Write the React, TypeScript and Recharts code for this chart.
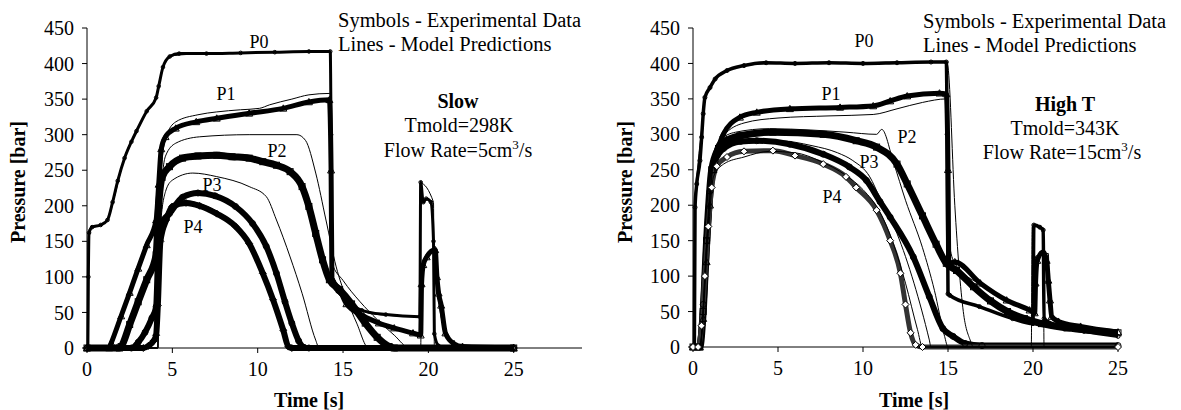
import React from "react";
import { LineChart, Line, XAxis, YAxis } from "recharts";

type Pt = { t: number; p: number };

const timeTicks = [0, 5, 10, 15, 20, 25];
const pressureTicks = [0, 50, 100, 150, 200, 250, 300, 350, 400, 450];

// "Slow" run (Tmold=298K, 5 cm3/s) - symbols = experiment, lines = model
const slowP0Exp = [[0,0],[0.05,0],[0.08,100],[0.12,162],[0.3,170],[0.8,173],[1.2,180],[1.5,205],[1.8,235],[2.2,267],[2.6,290],[2.9,305],[3.5,333],[4.05,352],[4.2,368],[4.45,395],[4.85,410],[5.4,414],[7,414],[9,415],[11,416],[13,417],[14.25,417],[14.3,300],[14.35,92],[15,72],[16.1,53],[17.5,47],[19.5,44],[19.55,233],[19.7,205],[19.87,210],[20.15,205],[20.3,150],[20.35,20],[20.6,3],[21,0],[25,0]];
const slowP1Exp = [[0,0],[1.3,0],[1.42,7],[2,45],[2.5,78],[3,112],[3.5,145],[4.05,180],[4.2,230],[4.35,280],[4.6,297],[5.2,309],[6.4,318],[7.6,323],[9.5,330],[11.5,337],[13,346],[14.2,349],[14.3,250],[14.35,98],[14.8,82],[15.2,62],[16.2,45],[17.1,35],[18,28],[19.1,21],[19.55,18],[19.6,90],[19.7,117],[19.9,128],[20.4,138],[20.5,100],[20.6,77],[20.75,60],[21,21],[21.5,6],[22,2],[25,0]];
const slowP2Exp = [[0,0],[1.9,0],[2,2],[2.5,33],[3,65],[3.5,96],[4.05,131],[4.2,200],[4.4,240],[4.83,255],[5.6,267],[6.5,270],[7.6,271],[8.5,269],[9.5,267],[10.3,262],[11.1,257],[11.9,248],[12.6,227],[13,199],[13.4,161],[13.8,124],[14.2,96],[14.8,82],[15.5,62],[16.3,35],[17,15],[17.7,2],[18,0],[25,0]];
const slowP3Exp = [[0,0],[2.6,0],[3,8],[3.4,22],[3.8,42],[4.05,58],[4.2,150],[4.5,180],[4.83,189],[5.6,212],[6.5,218],[7.5,214],[8.7,199],[9.7,175],[10.5,143],[11.1,105],[11.6,65],[12,35],[12.4,10],[12.7,1],[13,0],[25,0]];
const slowP4Exp = [[0,0],[3.3,0],[3.6,3],[3.9,10],[4.05,18],[4.15,60],[4.3,150],[4.64,180],[5,199],[5.8,204],[6.6,200],[7.6,189],[8.7,171],[9.5,147],[10.3,105],[10.9,68],[11.5,25],[11.8,2],[12,0],[25,0]];

const slowP0Model = [[0,0],[0.03,0],[0.06,150],[0.15,168],[0.8,173],[1.2,180],[1.6,212],[2.2,268],[2.9,305],[3.5,333],[4.05,352],[4.2,370],[4.5,398],[5,411],[7,414],[11,416],[14.28,417],[14.32,90],[15,70],[16.1,52],[17.5,46],[19.48,44],[19.52,232],[20.3,205],[20.35,0],[25,0]];
const slowP1Model = [[0,0],[4.15,0],[4.2,120],[4.3,230],[4.6,295],[5.2,318],[6.5,328],[7.6,332],[9,335],[10.1,337],[10.7,342],[12,350],[13,356],[14.2,358],[14.3,356],[14.35,120],[15,95],[16,65],[17,40],[18,18],[18.9,0],[19.55,0],[19.6,90],[19.9,128],[20.4,138],[20.45,100],[21,22],[21.5,5],[22,0],[25,0]];
const slowP2Model = [[0,0],[4.15,0],[4.2,100],[4.3,200],[4.6,270],[5.2,288],[6.6,297],[9.5,300],[12.3,300],[12.8,292],[13.4,246],[14,180],[14.6,114],[15.2,70],[15.8,35],[16.5,0],[25,0]];
const slowP3Model = [[0,0],[4.15,0],[4.2,90],[4.3,170],[4.6,220],[5,236],[6.2,246],[7.6,241],[9.5,227],[10.5,213],[11.1,180],[11.9,128],[12.6,77],[13.4,11],[13.6,0],[25,0]];
const slowP4Model = [[0,0],[4.15,0],[4.2,80],[4.3,150],[4.6,185],[5,200],[5.8,207],[6.6,203],[7.6,192],[8.7,174],[9.5,150],[10.3,108],[10.9,70],[11.5,28],[11.9,0],[25,0]];

// "High T" run (Tmold=343K, 15 cm3/s)
const hotP0Exp = [[0,0],[0.08,0],[0.12,197],[0.22,230],[0.41,263],[0.51,296],[0.6,329],[0.7,352],[1,366],[1.3,378],[2,390],[3,397],[4.3,401],[6,400],[8,401],[10,400],[12,401],[14,402],[14.9,402],[14.95,300],[15,75],[15.1,73],[16.85,57],[18.8,40],[20,33],[20.05,172],[20.4,169],[20.6,165],[20.65,40],[21.5,30],[23,22],[25,15]];
const hotP1Exp = [[0,0],[0.4,0],[0.6,40],[0.8,120],[1,200],[1.2,250],[1.39,272],[1.78,300],[2.76,324],[3.75,331],[5.7,336],[8.65,338],[10.6,340],[11.6,347],[12.6,354],[14.5,358],[14.9,357],[15,250],[15.05,118],[15.4,120],[16.9,90],[18.45,66],[19.8,52],[20.1,48],[20.15,90],[20.25,122],[20.6,134],[20.8,122],[20.9,94],[21,66],[21.1,43],[21.5,36],[22.8,29],[25,21]];
const hotP2Exp = [[0,0],[0.4,0],[0.6,50],[0.8,150],[1.1,250],[1.5,280],[1.78,288],[2.76,298],[4.7,303],[7.66,300],[9.6,291],[10.8,282],[12,258],[12.6,230],[13.5,185],[14.3,145],[14.9,118],[15.5,108],[16.5,85],[17.5,65],[18.5,50],[19.5,40],[20.5,33],[22,27],[25,20]];
const hotP3Exp = [[0,0],[0.35,0],[0.6,60],[0.8,150],[1,220],[1.3,262],[1.8,280],[2.8,290],[3.75,291],[5.7,286],[7.66,272],[9.2,254],[10.2,235],[11,205],[11.6,183],[12.96,127],[13.9,71],[14.7,26],[15.3,15],[16,5],[17,2],[25,2]];
const hotP4Exp = [[0,0],[0.3,0],[0.5,30],[0.7,100],[0.9,170],[1.1,225],[1.4,255],[2,268],[3,276],[4.7,277],[6,270],[7.66,258],[9,240],[9.6,225],[10.8,193],[11.6,150],[12.2,104],[12.5,60],[12.8,20],[13.1,3],[13.5,0],[25,0]];

const hotP0Model = [[0,0],[0.08,0],[0.1,195],[0.3,260],[0.5,305],[0.7,350],[1,368],[1.5,382],[2,390],[3,397],[5,400],[10,401],[14.9,403],[15,395],[15.4,200],[15.9,50],[16.3,10],[16.5,0],[19.9,0],[19.95,170],[20.6,168],[20.65,0],[25,0]];
const hotP1Model = [[0,0],[0.4,0],[0.8,140],[1.2,265],[1.8,298],[3,316],[5,323],[8,326],[10.6,328],[12,336],[13.5,345],[14.9,350],[15,340],[15.05,150],[15.4,118],[16.9,88],[18.5,64],[20,50],[20.1,48],[20.15,128],[20.9,132],[21,45],[22,32],[25,20]];
const hotP2Model = [[0,0],[0.4,0],[0.8,150],[1.1,260],[1.5,290],[2.5,303],[4.5,308],[7,306],[9,303],[10.8,300],[11.1,307],[11.8,260],[12.5,207],[13.5,140],[14.2,80],[14.8,15],[15,0],[25,0]];
const hotP3Model = [[0,0],[0.4,0],[0.9,180],[1.2,255],[1.8,280],[3,290],[5,291],[7,284],[8.5,274],[9.4,263],[10.4,240],[11,210],[12,160],[13,90],[13.9,10],[14,0],[25,0]];
const hotP4Model = [[0,0],[0.4,0],[0.9,160],[1.2,240],[1.8,258],[3,268],[4.5,276],[6,274],[7.5,262],[9,242],[10,222],[11,190],[11.8,145],[12.5,90],[13.2,25],[13.5,0],[25,0]];

const FONT = "'Liberation Serif', 'Times New Roman', serif";

const pts = (rows: number[][]): Pt[] => rows.map(([t, p]) => ({ t, p }));

type Shape = "circle" | "tri" | "square" | "diamond";
type ExpSeries = { rows: number[][]; width: number; shape: Shape; size: number; color?: string; fill?: string };

function marker(shape: Shape, s: number, fill = "none") {
  return (props: any) => {
    const { cx, cy, index } = props;
    if (cx == null || cy == null) return <g key={index} />;
    const common = { fill, stroke: "#000", strokeWidth: 1 };
    if (shape === "circle") return <circle key={index} cx={cx} cy={cy} r={s} {...common} />;
    if (shape === "square") return <rect key={index} x={cx - s} y={cy - s} width={2 * s} height={2 * s} {...common} />;
    if (shape === "diamond")
      return <polygon key={index} points={`${cx},${cy - s} ${cx + s},${cy} ${cx},${cy + s} ${cx - s},${cy}`} {...common} />;
    return <polygon key={index} points={`${cx},${cy - s} ${cx + s},${cy + s * 0.8} ${cx - s},${cy + s * 0.8}`} {...common} />;
  };
}

const slowExp: ExpSeries[] = [
  { rows: slowP0Exp, width: 3, shape: "circle", size: 1.8 },
  { rows: slowP1Exp, width: 5, shape: "tri", size: 3.5 },
  { rows: slowP2Exp, width: 7, shape: "square", size: 3 },
  { rows: slowP3Exp, width: 6, shape: "circle", size: 3 },
  { rows: slowP4Exp, width: 6, shape: "diamond", size: 3.5 },
];
const slowModel = [slowP0Model, slowP1Model, slowP2Model, slowP3Model, slowP4Model];

const hotExp: ExpSeries[] = [
  { rows: hotP0Exp, width: 3.5, shape: "circle", size: 2 },
  { rows: hotP1Exp, width: 5, shape: "tri", size: 3.5 },
  { rows: hotP2Exp, width: 7, shape: "square", size: 3 },
  { rows: hotP3Exp, width: 6, shape: "circle", size: 3 },
  { rows: hotP4Exp, width: 5, shape: "diamond", size: 3.5, color: "#333", fill: "#fff" },
];
const hotModel = [hotP0Model, hotP1Model, hotP2Model, hotP3Model, hotP4Model];

const tickStyle = { fill: "#000", fontSize: 20, fontFamily: FONT };
const axisStroke = { stroke: "#000", strokeWidth: 1 };

type PanelProps = {
  exp: ExpSeries[];
  model: number[][][];
  xMax: number;
  width: number;
  margin: { top: number; right: number; bottom: number; left: number };
};

function Panel({ exp, model, xMax, width, margin }: PanelProps) {
  return (
    <LineChart width={width} height={410} margin={margin}>
      <XAxis
        type="number"
        dataKey="t"
        domain={[0, xMax]}
        ticks={timeTicks}
        interval={0}
        height={40}
        tickSize={5}
        tickMargin={9}
        axisLine={axisStroke}
        tickLine={axisStroke}
        tick={tickStyle}
      />
      <YAxis
        type="number"
        domain={[0, 450]}
        ticks={pressureTicks}
        interval={0}
        width={80}
        tickSize={5}
        tickMargin={8}
        axisLine={axisStroke}
        tickLine={axisStroke}
        tick={tickStyle}
      />
      {exp.map((s, i) => (
        <Line
          key={"e" + i}
          data={pts(s.rows)}
          dataKey="p"
          type="monotoneX"
          stroke={s.color ?? "#000"}
          strokeWidth={s.width}
          strokeLinejoin="round"
          dot={marker(s.shape, s.size, s.fill)}
          activeDot={false}
          isAnimationActive={false}
        />
      ))}
      {model.map((rows, i) => (
        <Line
          key={"m" + i}
          data={pts(rows)}
          dataKey="p"
          type="monotoneX"
          stroke="#000"
          strokeWidth={1}
          dot={false}
          activeDot={false}
          isAnimationActive={false}
        />
      ))}
    </LineChart>
  );
}

type Note = { x: number; y: number; text: string; anchor?: "start" | "middle"; bold?: boolean; size?: number };

const notes: Note[] = [
  { x: 338, y: 27, text: "Symbols - Experimental Data", anchor: "start", size: 20.5 },
  { x: 338, y: 51, text: "Lines - Model Predictions", anchor: "start", size: 20.5 },
  { x: 458, y: 108, text: "Slow", bold: true },
  { x: 459, y: 132, text: "Tmold=298K" },
  { x: 923, y: 28, text: "Symbols - Experimental Data", anchor: "start", size: 20.5 },
  { x: 923, y: 52, text: "Lines - Model Predictions", anchor: "start", size: 20.5 },
  { x: 1065, y: 111, text: "High T", bold: true },
  { x: 1065, y: 135, text: "Tmold=343K" },
  { x: 259, y: 48, text: "P0", size: 18 },
  { x: 226, y: 100, text: "P1", size: 18 },
  { x: 277, y: 157, text: "P2", size: 18 },
  { x: 212, y: 191, text: "P3", size: 18 },
  { x: 193, y: 233, text: "P4", size: 18 },
  { x: 864, y: 47, text: "P0", size: 18 },
  { x: 831, y: 100, text: "P1", size: 18 },
  { x: 907, y: 143, text: "P2", size: 18 },
  { x: 869, y: 168, text: "P3", size: 18 },
  { x: 832, y: 203, text: "P4", size: 18 },
  { x: 309, y: 407, text: "Time [s]", bold: true },
  { x: 914, y: 407, text: "Time [s]", bold: true },
];

const flowNotes = [
  { x: 458, y: 157, before: "Flow Rate=5cm" },
  { x: 1062, y: 159, before: "Flow Rate=15cm" },
];

const yTitles = [
  { x: 17.5, y: 182 },
  { x: 625, y: 182 },
];

export default function App() {
  return (
    <div style={{ position: "absolute", left: 0, top: 0, width: 1181, height: 410, background: "#fff" }}>
      <div style={{ position: "absolute", left: 0, top: 0 }}>
        <Panel exp={slowExp} model={slowModel} xMax={29} width={600} margin={{ top: 28, right: 18, bottom: 22, left: 7 }} />
      </div>
      <div style={{ position: "absolute", left: 600, top: 0 }}>
        <Panel exp={hotExp} model={hotModel} xMax={25} width={581} margin={{ top: 28, right: 63, bottom: 23, left: 13 }} />
      </div>
      <svg
        width={1181}
        height={410}
        style={{ position: "absolute", left: 0, top: 0, pointerEvents: "none" }}
        fontFamily={FONT}
        fill="#000"
      >
        {notes.map((n, i) => (
          <text
            key={i}
            x={n.x}
            y={n.y}
            textAnchor={n.anchor ?? "middle"}
            fontSize={n.size ?? 20}
            fontWeight={n.bold ? "bold" : "normal"}
          >
            {n.text}
          </text>
        ))}
        {flowNotes.map((n, i) => (
          <text key={"f" + i} x={n.x} y={n.y} textAnchor="middle" fontSize={20}>
            <tspan>{n.before}</tspan>
            <tspan dy={-8} fontSize={13}>3</tspan>
            <tspan dy={8}>/s</tspan>
          </text>
        ))}
        {yTitles.map((t, i) => (
          <text
            key={"y" + i}
            x={t.x}
            y={t.y}
            textAnchor="middle"
            dominantBaseline="central"
            fontSize={20}
            fontWeight="bold"
            transform={`rotate(-90 ${t.x} ${t.y})`}
          >
            Pressure [bar]
          </text>
        ))}
      </svg>
    </div>
  );
}
